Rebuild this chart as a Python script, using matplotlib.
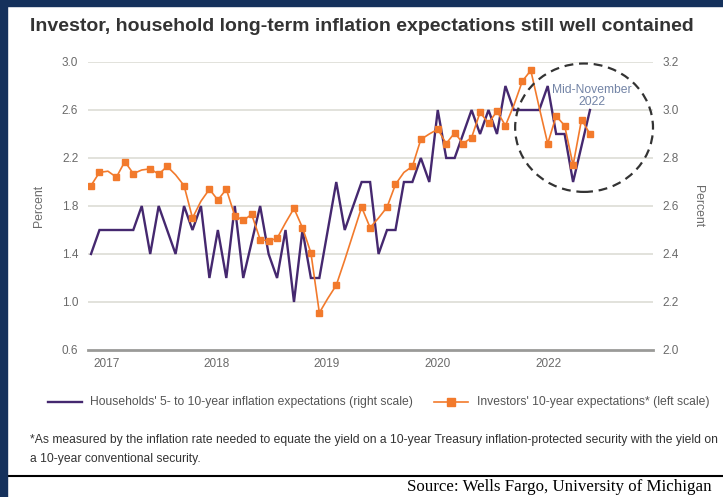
import matplotlib
matplotlib.use("Agg")
import matplotlib.pyplot as plt
from matplotlib.patches import Ellipse, Rectangle
from matplotlib.lines import Line2D

# Households' 5- to 10-year inflation expectations (right scale, %)
households = [2.4, 2.5, 2.5, 2.5, 2.5, 2.5, 2.6, 2.4, 2.6, 2.5,
              2.4, 2.6, 2.5, 2.6, 2.3, 2.5, 2.3, 2.6, 2.3, 2.45,
              2.6, 2.4, 2.3, 2.5, 2.2, 2.5, 2.3, 2.3, 2.5, 2.7,
              2.5, 2.6, 2.7, 2.7, 2.4, 2.5, 2.5, 2.7, 2.7, 2.8,
              2.7, 3.0, 2.8, 2.8, 2.9, 3.0, 2.9, 3.0, 2.9, 3.1,
              3.0, 3.0, 3.0, 3.0, 3.1, 2.9, 2.9, 2.7, 2.85, 3.0]

# Investors' 10-year expectations (left scale, %)
investors = [1.97, 2.08, 2.09, 2.04, 2.17, 2.07, 2.10, 2.11, 2.065, 2.13,
             2.06, 1.97, 1.70, 1.84, 1.94, 1.85, 1.94, 1.72, 1.68, 1.73,
             1.52, 1.51, 1.53, 1.66, 1.78, 1.62, 1.41, 0.91, 1.03, 1.14,
             1.35, 1.57, 1.79, 1.62, 1.70, 1.79, 1.98, 2.08, 2.13, 2.355,
             2.40, 2.44, 2.32, 2.41, 2.32, 2.37, 2.58, 2.49, 2.59, 2.47,
             2.64, 2.84, 2.93, 2.62, 2.32, 2.55, 2.47, 2.14, 2.52, 2.40]
# points drawn without a marker
investor_no_marker = [2, 6, 10, 13, 23, 28, 30, 31, 34, 37, 40, 50, 53]

year_labels = ["2017", "2018", "2019", "2020", "2022"]
year_pos = [1.9, 14.9, 27.9, 41.0, 54.1]
left_ticks = [0.6, 1.0, 1.4, 1.8, 2.2, 2.6, 3.0]
right_ticks = [2.0, 2.2, 2.4, 2.6, 2.8, 3.0, 3.2]

purple = "#45286f"
orange = "#f27a2c"
grey_txt = "#6a6a6a"
font = ["Liberation Sans", "DejaVu Sans"]
plt.rcParams["font.family"] = font

W, H = 723, 497
fig = plt.figure(figsize=(W / 100, H / 100), dpi=100)

def fx(px):
    return px / W

def fy(py):
    return 1 - py / H

ax = fig.add_axes([fx(88), fy(350), fx(653) - fx(88), fy(62) - fy(350)])
ax2 = ax.twinx()
ax.set_zorder(2)
ax2.set_zorder(1)
ax.patch.set_visible(False)

x = list(range(len(households)))
ax2.plot(x, households, color=purple, lw=1.7, solid_joinstyle="miter")
marks = [i for i in x if i not in investor_no_marker]
ax.plot(x, investors, color=orange, lw=1.2, marker="s", ms=4.6,
        markevery=marks)

ax.set_xlim(-0.355, 66.45)
ax.set_ylim(0.6, 3.0)
ax2.set_ylim(2.0, 3.2)
ax.set_yticks(left_ticks)
ax.set_yticklabels([f"{v:.1f}" for v in left_ticks])
ax2.set_yticks(right_ticks)
ax2.set_yticklabels([f"{v:.1f}" for v in right_ticks])
ax.set_xticks(year_pos)
ax.set_xticklabels(year_labels)

for a in (ax, ax2):
    for s in a.spines.values():
        s.set_visible(False)
    a.tick_params(length=0, labelsize=8.5, colors=grey_txt)
ax.tick_params(axis="y", pad=7)
ax2.tick_params(axis="y", pad=7)
ax.tick_params(axis="x", pad=6)

for v in right_ticks[1:]:
    ax2.axhline(v, color="#e2e2dc", lw=1.4, zorder=0)
ax2.axhline(2.0, color="#9a9a98", lw=2.0, zorder=0, clip_on=False)

ax.set_ylabel("Percent", color=grey_txt, fontsize=8.8, labelpad=12)
ax2.set_ylabel("Percent", color=grey_txt, fontsize=8.8, rotation=-90, labelpad=18)

# dashed circle around the latest readings
ax.add_patch(Ellipse((58.3, 2.4525), 16.3, 1.07, fill=False, ec="#333333",
                     lw=1.6, ls=(0, (4, 2.6)), clip_on=False, zorder=5))
ax.text(59.2, 2.72, "Mid-November\n2022", color="#7384a6", fontsize=8.7,
        ha="center", va="center", linespacing=1.0, zorder=6)

# frame
fig.patches.append(Rectangle((0, fy(6)), 1, 6 / H, transform=fig.transFigure,
                             color="#15315c", zorder=10))
fig.patches.append(Rectangle((0, 0), fx(7), 1, transform=fig.transFigure,
                             color="#15315c", zorder=10))
fig.lines.append(Line2D([fx(7), 1], [fy(476), fy(476)], transform=fig.transFigure,
                        color="black", lw=1.5))

fig.text(fx(30), fy(31), "Investor, household long-term inflation expectations still well contained",
         fontsize=14, fontweight="bold", color="#333333", va="baseline")

# legend
fig.lines.append(Line2D([fx(48), fx(82)], [fy(402), fy(402)], transform=fig.transFigure,
                        color=purple, lw=1.7))
fig.text(fx(90), fy(402), "Households' 5- to 10-year inflation expectations (right scale)",
         fontsize=8.7, color="#555555", va="center")
fig.lines.append(Line2D([fx(434), fx(468)], [fy(402), fy(402)], transform=fig.transFigure,
                        color=orange, lw=1.2))
fig.lines.append(Line2D([fx(451)], [fy(402)], transform=fig.transFigure,
                        color=orange, marker="s", ms=6))
fig.text(fx(477), fy(402), "Investors' 10-year expectations* (left scale)",
         fontsize=8.7, color="#555555", va="center")

fig.text(fx(30), fy(440), "*As measured by the inflation rate needed to equate the yield on a 10-year "
         "Treasury inflation-protected security with the yield on",
         fontsize=8.7, color="#333333", va="center")
fig.text(fx(30), fy(459), "a 10-year conventional security.",
         fontsize=8.7, color="#333333", va="center")

fig.text(fx(712), fy(487), "Source: Wells Fargo, University of Michigan",
         fontsize=12.2, family="Liberation Serif", color="black",
         ha="right", va="center")

fig.savefig("out.png", dpi=100)
